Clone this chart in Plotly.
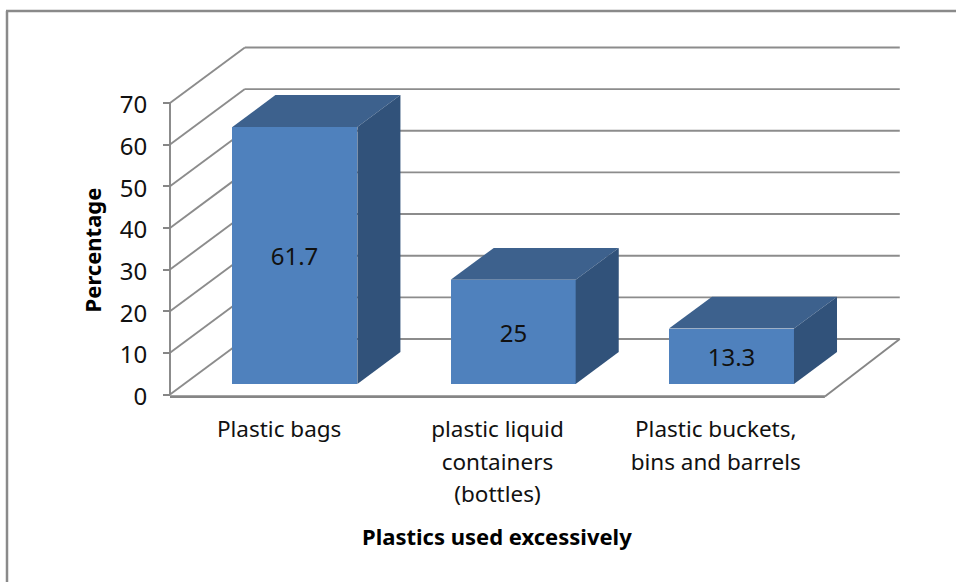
import plotly.graph_objects as go

# Chart data
categories = ["Plastic bags", "plastic liquid<br>containers<br>(bottles)", "Plastic buckets,<br>bins and barrels"]
percentages = [61.7, 25, 13.3]
value_ticks = [0, 10, 20, 30, 40, 50, 60, 70]
x_title = "Plastics used excessively"
y_title = "Percentage"

# Oblique projection: one full depth of the box, in axis units
DEPTH_X = 0.343
DEPTH_Y = 13.33
BAR_WIDTH = 0.5726
BAR_NEAR = 0.19    # share of the depth in front of the bars
BAR_DEEP = 0.575   # share of the depth the bars occupy
BAR_SHIFT = 0.072  # sideways offset of the bars from their category centre
FLOOR_DROP = -0.5
X_LEFT, X_RIGHT = -0.5, 2.5

FRONT = "#4F81BD"
TOP = "#3D618D"
SIDE = "#31527A"
GRID = "#8C8C8C"
AXIS = "#868686"
TEXT = "#111111"
FONT = "Noto Sans"

W, H = 956, 582
M_L, M_T, M_B, M_R = 160, 40, 175, 51
X_UNIT = 218.3     # pixels per category
Y_UNIT = 4.165     # pixels per percentage point
X_PAD = 10         # room left of the wall edge, pixels
Y_PAD = 12.5       # room under the zero line, pixels
PLOT_W = W - M_L - M_R
PLOT_H = H - M_T - M_B

fig = go.Figure()

# Walls and floor sit underneath the bars
shapes = []
def seg(x0, y0, x1, y1, width=1.9, color=GRID):
    shapes.append(dict(type="line", xref="x", yref="y", x0=x0, y0=y0, x1=x1, y1=y1,
                       layer="below", line=dict(color=color, width=width)))

for v in value_ticks:
    seg(X_LEFT, v, X_LEFT + DEPTH_X, v + DEPTH_Y)
    seg(X_LEFT + DEPTH_X, v + DEPTH_Y, X_RIGHT + DEPTH_X, v + DEPTH_Y)
seg(X_LEFT, value_ticks[0], X_LEFT, value_ticks[-1], width=1.9, color=AXIS)
seg(X_LEFT, FLOOR_DROP, X_RIGHT, FLOOR_DROP, width=2.6, color=AXIS)
seg(X_RIGHT, FLOOR_DROP, X_RIGHT + DEPTH_X, DEPTH_Y, width=1.9, color=AXIS)

# Front face of each bar
bar_x = [i + BAR_SHIFT for i in range(len(percentages))]
lift = BAR_NEAR * DEPTH_Y
fig.add_trace(go.Bar(
    x=bar_x, y=percentages, base=[lift] * len(percentages), width=BAR_WIDTH,
    marker=dict(color=FRONT, line=dict(width=0)),
    text=[str(p) for p in percentages], textposition="inside",
    insidetextanchor="middle", textangle=0,
    textfont=dict(family=FONT, size=24, color=TEXT), constraintext="none",
    hoverinfo="skip", showlegend=False,
))

# Top and side faces projected back from each bar's value
dx = BAR_DEEP * DEPTH_X
dy = BAR_DEEP * DEPTH_Y
for cx, p in zip(bar_x, percentages):
    left, right = cx - BAR_WIDTH / 2, cx + BAR_WIDTH / 2
    top = lift + p
    fig.add_trace(go.Scatter(
        x=[left, right, right + dx, left + dx, left],
        y=[top, top, top + dy, top + dy, top],
        mode="lines", fill="toself", fillcolor=TOP, line=dict(width=0),
        hoverinfo="skip", showlegend=False))
    fig.add_trace(go.Scatter(
        x=[right, right + dx, right + dx, right, right],
        y=[top, top + dy, lift + dy, lift, top],
        mode="lines", fill="toself", fillcolor=SIDE, line=dict(width=0),
        hoverinfo="skip", showlegend=False))

# Page positions for the frame and the axis titles
def px(x):
    return (x - M_L) / PLOT_W
def py(y):
    return 1 - (y - M_T) / PLOT_H

# Outer chart frame, open along the right and bottom edges of the page
shapes.append(dict(type="line", xref="paper", yref="paper", x0=px(7), y0=py(582), x1=px(7), y1=py(11),
                   line=dict(color="#8A8A8A", width=2.5)))
shapes.append(dict(type="line", xref="paper", yref="paper", x0=px(6), y0=py(11), x1=px(956), y1=py(11),
                   line=dict(color="#8A8A8A", width=2.5)))

x_start = X_LEFT - X_PAD / X_UNIT
y_start = -Y_PAD / Y_UNIT

fig.update_layout(
    width=W, height=H, autosize=False,
    margin=dict(l=M_L, r=M_R, t=M_T, b=M_B, pad=0),
    paper_bgcolor="white", plot_bgcolor="white",
    shapes=shapes, showlegend=False, bargap=0,
    xaxis=dict(
        range=[x_start, x_start + PLOT_W / X_UNIT],
        tickmode="array", tickvals=list(range(len(categories))),
        ticktext=[f'<span style="font-size:22.5px">{c}</span>' for c in categories],
        ticks="", showgrid=False, zeroline=False, showline=False,
        tickfont=dict(family=FONT, size=25, color=TEXT), tickangle=0,
        ticklabelstandoff=4,
    ),
    yaxis=dict(
        range=[y_start, y_start + PLOT_H / Y_UNIT],
        anchor="free", position=X_PAD / PLOT_W,
        tickmode="array", tickvals=value_ticks, ticktext=[str(v) for v in value_ticks],
        ticks="outside", ticklen=7, tickwidth=2, tickcolor=AXIS,
        showgrid=False, zeroline=False, showline=False,
        tickfont=dict(family=FONT, size=24, color=TEXT),
        ticklabelstandoff=11, ticklabelshift=2,
    ),
    annotations=[
        dict(text=f"<b>{x_title}</b>", xref="x", yref="paper", x=1, y=py(536),
             xanchor="center", yanchor="middle",
             showarrow=False, font=dict(family=FONT, size=22, color="black")),
        dict(text=f"<b>{y_title}</b>", xref="paper", yref="y", x=px(92), y=34.6, textangle=-90,
             xanchor="center", yanchor="middle",
             showarrow=False, font=dict(family=FONT, size=22, color="black")),
    ],
)

fig.write_html("out.html")
